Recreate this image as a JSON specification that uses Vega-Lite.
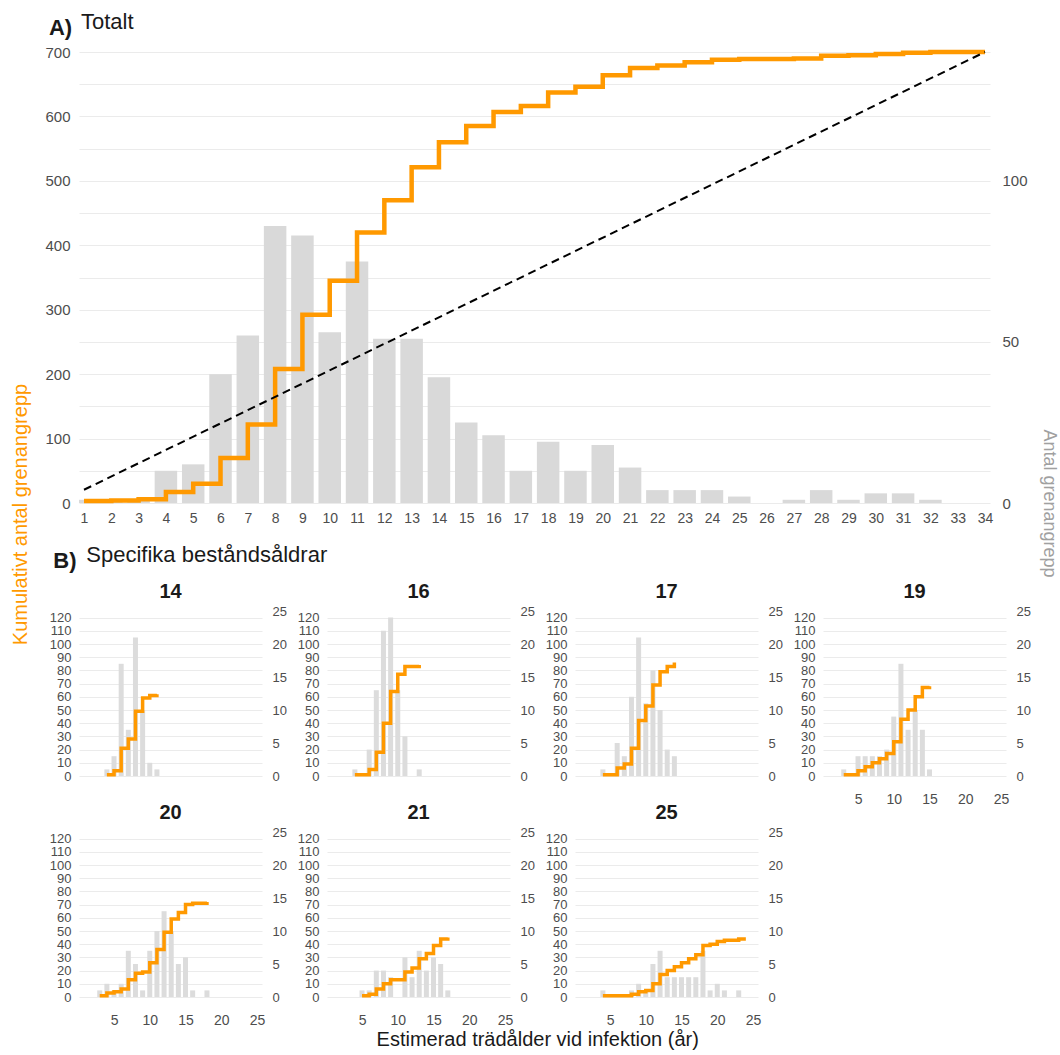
{
  "$schema": "https://vega.github.io/schema/vega-lite/v6.json",
  "background": "white",
  "padding": {"left": 10, "right": 2, "top": 11, "bottom": 0},
  "config": {
    "font": "Liberation Sans",
    "view": {"stroke": null},
    "axis": {"domain": false, "ticks": false, "labelColor": "#4d4d4d", "gridColor": "#EBEBEB", "gridWidth": 1.2, "labelFont": "Liberation Sans", "titleFont": "Liberation Sans", "labelFontSize": 13},
    "axisX": {"labelOverlap": false, "labelSeparation": 0, "labelFlush": false},
    "title": {"font": "Liberation Sans", "fontSize": 20, "fontWeight": "bold", "color": "#1a1a1a", "offset": 3}
  },
  "datasets": {
    "total": [
      {"x": 1, "n": 1, "cum": 3}, {"x": 2, "n": 1, "cum": 4}, {"x": 3, "n": 1, "cum": 6},
      {"x": 4, "n": 10, "cum": 17}, {"x": 5, "n": 12, "cum": 30}, {"x": 6, "n": 40, "cum": 70},
      {"x": 7, "n": 52, "cum": 122}, {"x": 8, "n": 86, "cum": 208}, {"x": 9, "n": 83, "cum": 292},
      {"x": 10, "n": 53, "cum": 345}, {"x": 11, "n": 75, "cum": 420}, {"x": 12, "n": 51, "cum": 470},
      {"x": 13, "n": 51, "cum": 521}, {"x": 14, "n": 39, "cum": 560}, {"x": 15, "n": 25, "cum": 585},
      {"x": 16, "n": 21, "cum": 607}, {"x": 17, "n": 10, "cum": 616}, {"x": 18, "n": 19, "cum": 637},
      {"x": 19, "n": 10, "cum": 646}, {"x": 20, "n": 18, "cum": 664}, {"x": 21, "n": 11, "cum": 675},
      {"x": 22, "n": 4, "cum": 679}, {"x": 23, "n": 4, "cum": 684}, {"x": 24, "n": 4, "cum": 688},
      {"x": 25, "n": 2, "cum": 689}, {"x": 26, "n": 0, "cum": 689}, {"x": 27, "n": 1, "cum": 690},
      {"x": 28, "n": 4, "cum": 694}, {"x": 29, "n": 1, "cum": 695}, {"x": 30, "n": 3, "cum": 697},
      {"x": 31, "n": 3, "cum": 699}, {"x": 32, "n": 1, "cum": 700}, {"x": 33, "n": 0, "cum": 700},
      {"x": 34, "n": 0, "cum": 700}
    ],
    "diagonal": [{"x": 1, "cum": 20.6}, {"x": 34, "cum": 700}],
    "panels": [
      {"age": 14, "x": 4, "n": 1, "cum": 1}, {"age": 14, "x": 5, "n": 3, "cum": 4}, {"age": 14, "x": 6, "n": 17, "cum": 21},
      {"age": 14, "x": 7, "n": 7, "cum": 28}, {"age": 14, "x": 8, "n": 21, "cum": 49}, {"age": 14, "x": 9, "n": 10, "cum": 59},
      {"age": 14, "x": 10, "n": 2, "cum": 61}, {"age": 14, "x": 11, "n": 1, "cum": 62},
      {"age": 16, "x": 4, "n": 1, "cum": 1}, {"age": 16, "x": 6, "n": 4, "cum": 5}, {"age": 16, "x": 7, "n": 13, "cum": 18},
      {"age": 16, "x": 8, "n": 22, "cum": 40}, {"age": 16, "x": 9, "n": 24, "cum": 64}, {"age": 16, "x": 10, "n": 13, "cum": 77},
      {"age": 16, "x": 11, "n": 6, "cum": 83}, {"age": 16, "x": 13, "n": 1, "cum": 84},
      {"age": 17, "x": 4, "n": 1, "cum": 1}, {"age": 17, "x": 6, "n": 5, "cum": 6}, {"age": 17, "x": 7, "n": 3, "cum": 9},
      {"age": 17, "x": 8, "n": 12, "cum": 21}, {"age": 17, "x": 9, "n": 21, "cum": 42}, {"age": 17, "x": 10, "n": 11, "cum": 53},
      {"age": 17, "x": 11, "n": 16, "cum": 69}, {"age": 17, "x": 12, "n": 10, "cum": 79}, {"age": 17, "x": 13, "n": 4, "cum": 83},
      {"age": 17, "x": 14, "n": 3, "cum": 86},
      {"age": 19, "x": 3, "n": 1, "cum": 1}, {"age": 19, "x": 5, "n": 3, "cum": 4}, {"age": 19, "x": 6, "n": 3, "cum": 7},
      {"age": 19, "x": 7, "n": 3, "cum": 10}, {"age": 19, "x": 8, "n": 3, "cum": 13}, {"age": 19, "x": 9, "n": 4, "cum": 17},
      {"age": 19, "x": 10, "n": 9, "cum": 26}, {"age": 19, "x": 11, "n": 17, "cum": 43}, {"age": 19, "x": 12, "n": 7, "cum": 50},
      {"age": 19, "x": 13, "n": 10, "cum": 60}, {"age": 19, "x": 14, "n": 7, "cum": 67}, {"age": 19, "x": 15, "n": 1, "cum": 68},
      {"age": 20, "x": 3, "n": 1, "cum": 1}, {"age": 20, "x": 4, "n": 2, "cum": 3}, {"age": 20, "x": 5, "n": 1, "cum": 4},
      {"age": 20, "x": 6, "n": 2, "cum": 6}, {"age": 20, "x": 7, "n": 7, "cum": 13}, {"age": 20, "x": 8, "n": 5, "cum": 18},
      {"age": 20, "x": 9, "n": 1, "cum": 19}, {"age": 20, "x": 10, "n": 7, "cum": 26}, {"age": 20, "x": 11, "n": 10, "cum": 36},
      {"age": 20, "x": 12, "n": 13, "cum": 49}, {"age": 20, "x": 13, "n": 10, "cum": 59}, {"age": 20, "x": 14, "n": 5, "cum": 64},
      {"age": 20, "x": 15, "n": 6, "cum": 70}, {"age": 20, "x": 16, "n": 1, "cum": 71}, {"age": 20, "x": 18, "n": 1, "cum": 72},
      {"age": 21, "x": 5, "n": 1, "cum": 1}, {"age": 21, "x": 6, "n": 1, "cum": 2}, {"age": 21, "x": 7, "n": 4, "cum": 6},
      {"age": 21, "x": 8, "n": 4, "cum": 10}, {"age": 21, "x": 9, "n": 3, "cum": 13}, {"age": 21, "x": 11, "n": 6, "cum": 19},
      {"age": 21, "x": 12, "n": 3, "cum": 22}, {"age": 21, "x": 13, "n": 7, "cum": 29}, {"age": 21, "x": 14, "n": 4, "cum": 33},
      {"age": 21, "x": 15, "n": 6, "cum": 39}, {"age": 21, "x": 16, "n": 5, "cum": 44}, {"age": 21, "x": 17, "n": 1, "cum": 45},
      {"age": 25, "x": 4, "n": 1, "cum": 1}, {"age": 25, "x": 8, "n": 1, "cum": 2}, {"age": 25, "x": 9, "n": 2, "cum": 4},
      {"age": 25, "x": 10, "n": 1, "cum": 5}, {"age": 25, "x": 11, "n": 5, "cum": 10}, {"age": 25, "x": 12, "n": 7, "cum": 17},
      {"age": 25, "x": 13, "n": 3, "cum": 20}, {"age": 25, "x": 14, "n": 3, "cum": 23}, {"age": 25, "x": 15, "n": 3, "cum": 26},
      {"age": 25, "x": 16, "n": 3, "cum": 29}, {"age": 25, "x": 17, "n": 3, "cum": 32}, {"age": 25, "x": 18, "n": 7, "cum": 39},
      {"age": 25, "x": 19, "n": 1, "cum": 40}, {"age": 25, "x": 20, "n": 2, "cum": 42}, {"age": 25, "x": 21, "n": 1, "cum": 43},
      {"age": 25, "x": 23, "n": 1, "cum": 44}, {"age": 25, "x": 24, "n": 0, "cum": 44}
    ]
  },
  "title": {"text": "Kumulativt antal grenangrepp", "orient": "left", "anchor": "middle", "color": "#FF9900", "fontSize": 20, "fontWeight": "normal", "offset": 14, "dx": 16},
  "vconcat": [
    {
      "title": {"text": "Antal grenangrepp", "orient": "right", "anchor": "middle", "color": "#A0A0A0", "fontSize": 18, "fontWeight": "normal", "offset": 10, "dx": -27},
      "vconcat": [
        {
          "title": {"text": "Estimerad trädålder vid infektion (år)", "orient": "bottom", "anchor": "middle", "color": "#1a1a1a", "fontSize": 20, "fontWeight": "normal", "offset": 3},
          "spacing": 19,
          "vconcat": [
            {
              "title": {"text": "A)", "anchor": "start", "fontSize": 22, "fontWeight": "bold", "offset": -29, "dx": 4},
              "vconcat": [
                {
                  "title": {"text": "Totalt", "anchor": "start", "fontSize": 22, "fontWeight": "normal", "offset": 9, "dx": 36},
                  "width": 911,
                  "height": 451,
                  "layer": [
                    {
                      "data": {"name": "total"},
                      "mark": {"type": "bar", "color": "#D9D9D9", "width": 22.5, "clip": true},
                      "encoding": {
                        "x": {"field": "x", "type": "quantitative", "scale": {"domain": [1, 34], "nice": false, "zero": false},
                          "axis": {"values": [1,2,3,4,5,6,7,8,9,10,11,12,13,14,15,16,17,18,19,20,21,22,23,24,25,26,27,28,29,30,31,32,33,34], "tickCount": 60, "format": "d", "labelOverlap": false, "grid": false, "title": null, "labelFontSize": 14, "labelPadding": 8}},
                        "y": {"field": "n", "type": "quantitative", "scale": {"domain": [0, 140], "nice": false},
                          "axis": {"orient": "right", "values": [0, 50, 100], "grid": false, "title": null, "labelFontSize": 15, "labelPadding": 12}}
                      }
                    },
                    {
                      "layer": [
                        {
                          "data": {"name": "total"},
                          "mark": {"type": "line", "interpolate": "step-after", "color": "#FF9900", "strokeWidth": 4.5},
                          "encoding": {
                            "x": {"field": "x", "type": "quantitative",
                              "axis": {"values": [1,2,3,4,5,6,7,8,9,10,11,12,13,14,15,16,17,18,19,20,21,22,23,24,25,26,27,28,29,30,31,32,33,34], "tickCount": 60, "format": "d", "labelOverlap": false, "grid": false, "title": null, "labelFontSize": 14, "labelPadding": 8}},
                            "y": {"field": "cum", "type": "quantitative", "scale": {"domain": [0, 700], "nice": false},
                              "axis": {"orient": "left", "values": [0,50,100,150,200,250,300,350,400,450,500,550,600,650,700], "tickCount": 30, "format": "d", "labelExpr": "datum.value % 100 == 0 ? datum.label : ''", "grid": true, "labelFontSize": 15, "labelPadding": 9, "title": null}}
                          }
                        },
                        {
                          "data": {"name": "diagonal"},
                          "mark": {"type": "line", "color": "black", "strokeWidth": 2, "strokeDash": [8, 5]},
                          "encoding": {
                            "x": {"field": "x", "type": "quantitative"},
                            "y": {"field": "cum", "type": "quantitative"}
                          }
                        }
                      ]
                    }
                  ],
                  "resolve": {"scale": {"y": "independent"}}
                }
              ]
            },
            {
              "title": {"text": "B)", "anchor": "start", "fontSize": 22, "fontWeight": "bold", "offset": -29, "dx": 4},
              "vconcat": [
                {
                  "title": {"text": "Specifika beståndsåldrar", "anchor": "start", "fontSize": 22, "fontWeight": "normal", "offset": 15, "dx": 37},
                  "data": {"name": "panels"},
                  "columns": 4,
                  "spacing": {"row": -3, "column": 10},
                  "concat": [
                    {
                      "title": "14",
                      "transform": [{"filter": "datum.age == 14"}],
                      "width": 183, "height": 165,
                      "layer": [
                        {"mark": {"type": "bar", "color": "#DCDCDC", "width": 5},
                         "encoding": {
                           "x": {"field": "x", "type": "quantitative", "scale": {"domain": [0.8, 25], "nice": false, "zero": false}, "axis": null},
                           "y": {"field": "n", "type": "quantitative", "scale": {"domain": [0, 25], "nice": false}, "axis": {"orient": "right", "values": [0,5,10,15,20,25], "grid": false, "title": null, "labelPadding": 10}}}},
                        {"mark": {"type": "line", "interpolate": "step-after", "color": "#FF9900", "strokeWidth": 3.5},
                         "encoding": {
                           "x": {"field": "x", "type": "quantitative"},
                           "y": {"field": "cum", "type": "quantitative", "scale": {"domain": [0, 125], "nice": false}, "axis": {"orient": "left", "values": [0,10,20,30,40,50,60,70,80,90,100,110,120], "tickCount": 30, "format": "d", "grid": true, "title": null, "labelPadding": 8}}}}
                      ],
                      "resolve": {"scale": {"y": "independent"}}
                    },
                    {
                      "title": "16",
                      "transform": [{"filter": "datum.age == 16"}],
                      "width": 183, "height": 165,
                      "layer": [
                        {"mark": {"type": "bar", "color": "#DCDCDC", "width": 5},
                         "encoding": {
                           "x": {"field": "x", "type": "quantitative", "scale": {"domain": [0.8, 25], "nice": false, "zero": false}, "axis": null},
                           "y": {"field": "n", "type": "quantitative", "scale": {"domain": [0, 25], "nice": false}, "axis": {"orient": "right", "values": [0,5,10,15,20,25], "grid": false, "title": null, "labelPadding": 10}}}},
                        {"mark": {"type": "line", "interpolate": "step-after", "color": "#FF9900", "strokeWidth": 3.5},
                         "encoding": {
                           "x": {"field": "x", "type": "quantitative"},
                           "y": {"field": "cum", "type": "quantitative", "scale": {"domain": [0, 125], "nice": false}, "axis": {"orient": "left", "values": [0,10,20,30,40,50,60,70,80,90,100,110,120], "tickCount": 30, "format": "d", "grid": true, "title": null, "labelPadding": 8}}}}
                      ],
                      "resolve": {"scale": {"y": "independent"}}
                    },
                    {
                      "title": "17",
                      "transform": [{"filter": "datum.age == 17"}],
                      "width": 183, "height": 165,
                      "layer": [
                        {"mark": {"type": "bar", "color": "#DCDCDC", "width": 5},
                         "encoding": {
                           "x": {"field": "x", "type": "quantitative", "scale": {"domain": [0.8, 25], "nice": false, "zero": false}, "axis": null},
                           "y": {"field": "n", "type": "quantitative", "scale": {"domain": [0, 25], "nice": false}, "axis": {"orient": "right", "values": [0,5,10,15,20,25], "grid": false, "title": null, "labelPadding": 10}}}},
                        {"mark": {"type": "line", "interpolate": "step-after", "color": "#FF9900", "strokeWidth": 3.5},
                         "encoding": {
                           "x": {"field": "x", "type": "quantitative"},
                           "y": {"field": "cum", "type": "quantitative", "scale": {"domain": [0, 125], "nice": false}, "axis": {"orient": "left", "values": [0,10,20,30,40,50,60,70,80,90,100,110,120], "tickCount": 30, "format": "d", "grid": true, "title": null, "labelPadding": 8}}}}
                      ],
                      "resolve": {"scale": {"y": "independent"}}
                    },
                    {
                      "title": "19",
                      "transform": [{"filter": "datum.age == 19"}],
                      "width": 183, "height": 165,
                      "layer": [
                        {"mark": {"type": "bar", "color": "#DCDCDC", "width": 5},
                         "encoding": {
                           "x": {"field": "x", "type": "quantitative", "scale": {"domain": [0.8, 25], "nice": false, "zero": false}, "axis": {"values": [5,10,15,20,25], "grid": false, "title": null, "labelFontSize": 14, "labelPadding": 16}},
                           "y": {"field": "n", "type": "quantitative", "scale": {"domain": [0, 25], "nice": false}, "axis": {"orient": "right", "values": [0,5,10,15,20,25], "grid": false, "title": null, "labelPadding": 10}}}},
                        {"mark": {"type": "line", "interpolate": "step-after", "color": "#FF9900", "strokeWidth": 3.5},
                         "encoding": {
                           "x": {"field": "x", "type": "quantitative"},
                           "y": {"field": "cum", "type": "quantitative", "scale": {"domain": [0, 125], "nice": false}, "axis": {"orient": "left", "values": [0,10,20,30,40,50,60,70,80,90,100,110,120], "tickCount": 30, "format": "d", "grid": true, "title": null, "labelPadding": 8}}}}
                      ],
                      "resolve": {"scale": {"y": "independent"}}
                    },
                    {
                      "title": "20",
                      "transform": [{"filter": "datum.age == 20"}],
                      "width": 183, "height": 165,
                      "layer": [
                        {"mark": {"type": "bar", "color": "#DCDCDC", "width": 5},
                         "encoding": {
                           "x": {"field": "x", "type": "quantitative", "scale": {"domain": [0.8, 25], "nice": false, "zero": false}, "axis": {"values": [5,10,15,20,25], "grid": false, "title": null, "labelFontSize": 14, "labelPadding": 16}},
                           "y": {"field": "n", "type": "quantitative", "scale": {"domain": [0, 25], "nice": false}, "axis": {"orient": "right", "values": [0,5,10,15,20,25], "grid": false, "title": null, "labelPadding": 10}}}},
                        {"mark": {"type": "line", "interpolate": "step-after", "color": "#FF9900", "strokeWidth": 3.5},
                         "encoding": {
                           "x": {"field": "x", "type": "quantitative"},
                           "y": {"field": "cum", "type": "quantitative", "scale": {"domain": [0, 125], "nice": false}, "axis": {"orient": "left", "values": [0,10,20,30,40,50,60,70,80,90,100,110,120], "tickCount": 30, "format": "d", "grid": true, "title": null, "labelPadding": 8}}}}
                      ],
                      "resolve": {"scale": {"y": "independent"}}
                    },
                    {
                      "title": "21",
                      "transform": [{"filter": "datum.age == 21"}],
                      "width": 183, "height": 165,
                      "layer": [
                        {"mark": {"type": "bar", "color": "#DCDCDC", "width": 5},
                         "encoding": {
                           "x": {"field": "x", "type": "quantitative", "scale": {"domain": [0.8, 25], "nice": false, "zero": false}, "axis": {"values": [5,10,15,20,25], "grid": false, "title": null, "labelFontSize": 14, "labelPadding": 16}},
                           "y": {"field": "n", "type": "quantitative", "scale": {"domain": [0, 25], "nice": false}, "axis": {"orient": "right", "values": [0,5,10,15,20,25], "grid": false, "title": null, "labelPadding": 10}}}},
                        {"mark": {"type": "line", "interpolate": "step-after", "color": "#FF9900", "strokeWidth": 3.5},
                         "encoding": {
                           "x": {"field": "x", "type": "quantitative"},
                           "y": {"field": "cum", "type": "quantitative", "scale": {"domain": [0, 125], "nice": false}, "axis": {"orient": "left", "values": [0,10,20,30,40,50,60,70,80,90,100,110,120], "tickCount": 30, "format": "d", "grid": true, "title": null, "labelPadding": 8}}}}
                      ],
                      "resolve": {"scale": {"y": "independent"}}
                    },
                    {
                      "title": "25",
                      "transform": [{"filter": "datum.age == 25"}],
                      "width": 183, "height": 165,
                      "layer": [
                        {"mark": {"type": "bar", "color": "#DCDCDC", "width": 5},
                         "encoding": {
                           "x": {"field": "x", "type": "quantitative", "scale": {"domain": [0.8, 25], "nice": false, "zero": false}, "axis": {"values": [5,10,15,20,25], "grid": false, "title": null, "labelFontSize": 14, "labelPadding": 16}},
                           "y": {"field": "n", "type": "quantitative", "scale": {"domain": [0, 25], "nice": false}, "axis": {"orient": "right", "values": [0,5,10,15,20,25], "grid": false, "title": null, "labelPadding": 10}}}},
                        {"mark": {"type": "line", "interpolate": "step-after", "color": "#FF9900", "strokeWidth": 3.5},
                         "encoding": {
                           "x": {"field": "x", "type": "quantitative"},
                           "y": {"field": "cum", "type": "quantitative", "scale": {"domain": [0, 125], "nice": false}, "axis": {"orient": "left", "values": [0,10,20,30,40,50,60,70,80,90,100,110,120], "tickCount": 30, "format": "d", "grid": true, "title": null, "labelPadding": 8}}}}
                      ],
                      "resolve": {"scale": {"y": "independent"}}
                    }
                  ]
                }
              ]
            }
          ]
        }
      ]
    }
  ]
}
